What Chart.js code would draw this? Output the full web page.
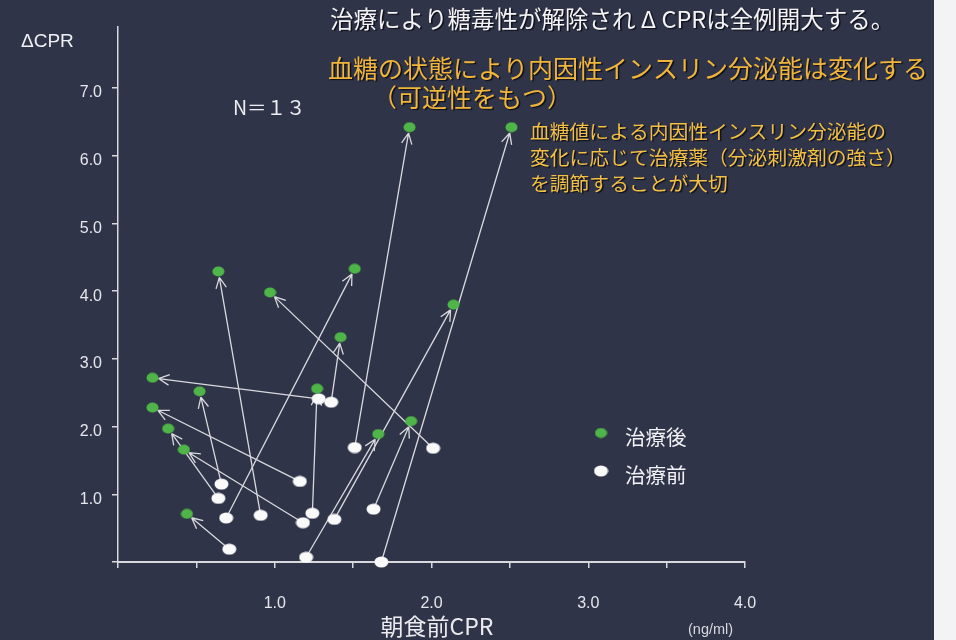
<!DOCTYPE html>
<html lang="ja">
<head>
<meta charset="utf-8">
<title>ΔCPR</title>
<script src="https://cdn.jsdelivr.net/npm/chart.js@4.4.1/dist/chart.umd.min.js"></script>
<style>
  html, body { margin: 0; padding: 0; background: #f3f3f5; }
  #wrap { width: 934px; height: 640px; background: #2f3448; }
</style>
</head>
<body>
<div id="wrap"><canvas id="cpr" width="934" height="640"></canvas></div>
<script>
// 朝食前CPR (ng/ml) and ΔCPR for each case, before and after treatment (same index = same case)
const beforeX = [0.66, 0.64, 0.69, 0.91, 0.71, 1.16, 1.18, 1.24, 1.38, 1.20, 1.28, 1.36, 1.51, 1.63, 2.01, 1.68];
const beforeY = [1.15, 0.94, 0.65, 0.69, 0.19, 1.19, 0.58, 0.72, 0.63, 0.07, 2.41, 2.36, 1.69, 0.78, 1.68, 0.00];
const afterX  = [0.52, 0.32, 1.51, 0.64, 0.44, 0.22, 0.42, 1.27, 2.14, 1.66, 0.22, 1.42, 1.86, 1.87, 0.97, 2.51];
const afterY  = [2.52, 1.97, 4.33, 4.29, 0.71, 2.28, 1.66, 2.56, 3.80, 1.89, 2.72, 3.32, 6.42, 2.08, 3.98, 6.42];

const xLabels = [1, 2, 3, 4];
const yLabels = [1, 2, 3, 4, 5, 6, 7];

const JP = '"Noto Sans CJK JP", sans-serif';
const LAT = '"Liberation Sans", Arial, sans-serif';
const GREEN = '#4fb548';
const WHITE = '#fafafa';
const ORANGE = '#f1b53a';

// slightly flattened dots, used as point styles
function dot(w, h, color) {
  const c = document.createElement('canvas');
  c.width = w; c.height = h;
  const g = c.getContext('2d');
  g.fillStyle = color;
  g.beginPath();
  g.ellipse(w / 2, h / 2, w / 2 - 0.5, h / 2 - 0.5, 0, 0, Math.PI * 2);
  g.fill();
  return c;
}
const greenDot = dot(13, 11, GREEN);
const whiteDot = dot(15, 12, WHITE);

const toPoints = (xs, ys) => xs.map((x, i) => ({ x: x, y: ys[i] }));

// before -> after arrows
const arrows = {
  id: 'arrows',
  beforeDatasetsDraw(chart) {
    const { ctx, scales: { x, y } } = chart;
    ctx.save();
    ctx.strokeStyle = '#d9d9de';
    ctx.lineWidth = 1.3;
    for (let i = 0; i < beforeX.length; i++) {
      const x0 = x.getPixelForValue(beforeX[i]), y0 = y.getPixelForValue(beforeY[i]);
      const x1 = x.getPixelForValue(afterX[i]), y1 = y.getPixelForValue(afterY[i]);
      const ang = Math.atan2(y1 - y0, x1 - x0);
      const tx = x1 - Math.cos(ang) * 6, ty = y1 - Math.sin(ang) * 6;
      ctx.beginPath();
      ctx.moveTo(x0, y0);
      ctx.lineTo(tx, ty);
      for (const s of [-0.45, 0.45]) {
        ctx.moveTo(tx, ty);
        ctx.lineTo(tx - Math.cos(ang + s) * 12, ty - Math.sin(ang + s) * 12);
      }
      ctx.stroke();
    }
    ctx.restore();
  }
};

function text(ctx, str, x, y, font, color, align, shadow) {
  ctx.save();
  ctx.font = font;
  ctx.fillStyle = color;
  ctx.textAlign = align || 'left';
  ctx.textBaseline = 'middle';
  if (shadow) {
    ctx.shadowColor = 'rgba(8,8,16,0.85)';
    ctx.shadowOffsetX = 1.5;
    ctx.shadowOffsetY = 1.5;
    ctx.shadowBlur = 1;
  }
  ctx.fillText(str, x, y);
  ctx.restore();
}

const notes = {
  id: 'notes',
  afterDraw(chart) {
    const ctx = chart.ctx;
    text(ctx, '治療により糖毒性が解除され Δ CPRは全例開大する。', 330, 19, '23.5px ' + JP, '#f4f4f6', 'left', true);
    text(ctx, '血糖の状態により内因性インスリン分泌能は変化する', 328, 68, '25px ' + JP, ORANGE, 'left', true);
    text(ctx, '（可逆性をもつ）', 372, 97, '25px ' + JP, ORANGE, 'left', true);
    text(ctx, 'N＝１３', 233, 108, '19.5px ' + JP, '#eeeef2', 'left', false);

    const memo = ['血糖値による内因性インスリン分泌能の', '変化に応じて治療薬（分泌刺激剤の強さ）', 'を調節することが大切'];
    memo.forEach((s, i) => text(ctx, s, 530, 131 + i * 26, '19.8px ' + JP, '#f3bf44', 'left', true));

    text(ctx, 'ΔCPR', 21, 42, '19px ' + LAT, '#f0f0f4');
    text(ctx, '朝食前CPR', 437, 626, '23px ' + JP, '#ececf0', 'center');
    text(ctx, '(ng/ml)', 688, 630, '14.5px ' + LAT, '#d8d8de');

    // legend
    chart.data.datasets.forEach((ds, i) => {
      const ly = 433 + i * 38;
      ctx.drawImage(ds.pointStyle, 601 - ds.pointStyle.width / 2, ly - ds.pointStyle.height / 2);
      text(ctx, ds.label, 625, ly + 4, '20.5px ' + JP, '#f2f2f6');
    });
  }
};

new Chart(document.getElementById('cpr'), {
  type: 'scatter',
  data: {
    datasets: [{
      label: '治療後',
      data: toPoints(afterX, afterY),
      pointStyle: greenDot,
      pointRadius: 6,
      pointHoverRadius: 6,
      clip: false
    }, {
      label: '治療前',
      data: toPoints(beforeX, beforeY),
      pointStyle: whiteDot,
      pointRadius: 7,
      pointHoverRadius: 7,
      clip: false
    }]
  },
  options: {
    responsive: false,
    animation: false,
    layout: { padding: { top: 27, right: 189, bottom: 0, left: 0 } },
    plugins: { legend: { display: false }, tooltip: { enabled: false } },
    scales: {
      x: {
        type: 'linear',
        min: 0,
        max: 4,
        border: { color: '#d8d8de', width: 2 },
        grid: { drawOnChartArea: false, tickLength: 6, color: '#d8d8de', lineWidth: 1.5 },
        ticks: {
          stepSize: 0.5,
          padding: 26,
          color: '#e6e6ec',
          font: { family: LAT, size: 16 },
          callback: v => xLabels.includes(v) ? v.toFixed(1) : ''
        },
        afterFit: s => { s.height = 78; }
      },
      y: {
        min: 0,
        max: 7.9,
        border: { color: '#ddd6de', width: 1.5 },
        grid: { drawOnChartArea: false, tickLength: 6, color: '#d8d8de', lineWidth: 1.5 },
        ticks: {
          stepSize: 1,
          includeBounds: false,
          padding: 10,
          labelOffset: 5,
          color: '#e6e6ec',
          font: { family: LAT, size: 16 },
          callback: v => yLabels.includes(v) ? v.toFixed(1) : ''
        },
        afterFit: s => { s.width = 118; }
      }
    }
  },
  plugins: [arrows, notes]
});
</script>
</body>
</html>
